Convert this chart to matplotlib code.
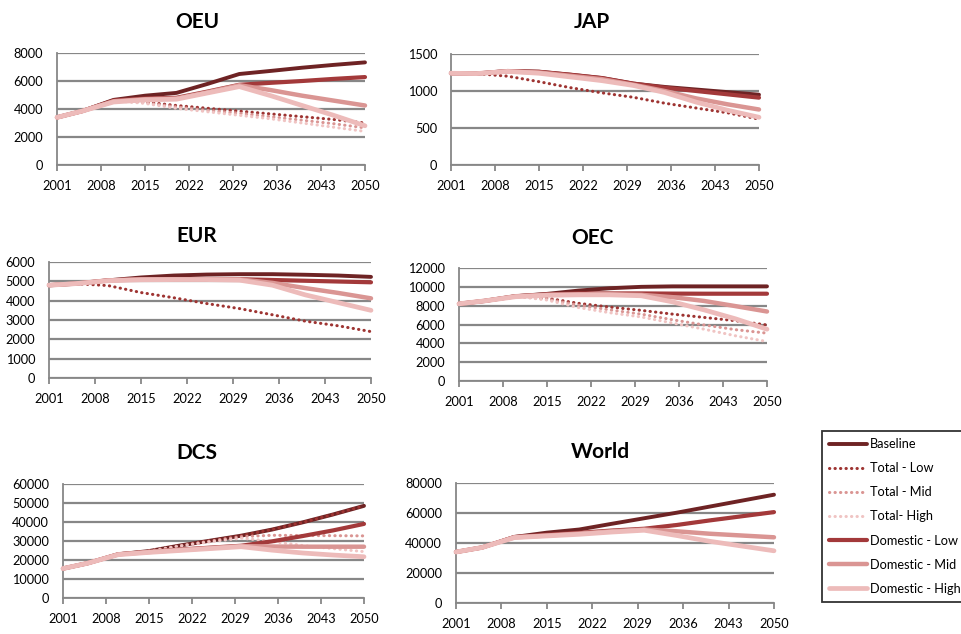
import matplotlib
matplotlib.use("Agg")
import matplotlib.pyplot as plt

plt.rcParams['font.family'] = ['Lato', 'DejaVu Sans']

# Scenario years (values read at five-year steps)
years = [2001, 2005, 2010, 2015, 2020, 2025, 2030, 2035, 2040, 2045, 2050]
x_ticks = [2001, 2008, 2015, 2022, 2029, 2036, 2043, 2050]
x_tick_labels = ["2001", "2008", "2015", "2022", "2029", "2036", "2043", "2050"]

series_names = ["Baseline", "Total - Low", "Total - Mid", "Total- High",
                "Domestic - Low", "Domestic - Mid", "Domestic - High"]

# OEU
oeu_baseline = [3400, 3850, 4650, 4950, 5150, 5800, 6500, 6720, 6950, 7150, 7330]
oeu_total_low = [3400, 3850, 4600, 4500, 4250, 4050, 3850, 3650, 3450, 3250, 3000]
oeu_total_mid = [3400, 3850, 4600, 4450, 4150, 3900, 3700, 3450, 3200, 2950, 2650]
oeu_total_high = [3400, 3850, 4600, 4400, 4050, 3800, 3550, 3300, 3000, 2700, 2400]
oeu_dom_low = [3400, 3850, 4600, 4750, 4800, 5250, 5730, 5870, 6000, 6150, 6280]
oeu_dom_mid = [3400, 3850, 4550, 4700, 4750, 5200, 5700, 5350, 4950, 4600, 4250]
oeu_dom_high = [3400, 3850, 4500, 4650, 4700, 5150, 5600, 4950, 4250, 3550, 2800]

# JAP
jap_baseline = [1240, 1235, 1270, 1260, 1220, 1175, 1100, 1055, 1020, 985, 950]
jap_total_low = [1240, 1235, 1200, 1126, 1045, 975, 915, 835, 770, 705, 620]
jap_total_mid = [1240, 1235, 1265, 1250, 1205, 1160, 1085, 1000, 900, 820, 750]
jap_total_high = [1240, 1235, 1265, 1240, 1190, 1140, 1075, 980, 850, 740, 645]
jap_dom_low = [1240, 1235, 1270, 1260, 1220, 1175, 1100, 1045, 1000, 955, 910]
jap_dom_mid = [1240, 1235, 1265, 1250, 1205, 1160, 1085, 1000, 900, 820, 750]
jap_dom_high = [1240, 1235, 1265, 1240, 1190, 1140, 1075, 980, 850, 740, 645]

# EUR
eur_baseline = [4800, 4880, 5050, 5200, 5300, 5350, 5370, 5370, 5340, 5300, 5230]
eur_total_low = [4800, 4880, 4780, 4420, 4150, 3850, 3590, 3270, 2940, 2700, 2400]
eur_total_mid = [4800, 4880, 5050, 5100, 5110, 5110, 5100, 4920, 4650, 4400, 4120]
eur_total_high = [4800, 4880, 5030, 5080, 5090, 5090, 5060, 4800, 4300, 3900, 3500]
eur_dom_low = [4800, 4880, 5050, 5110, 5120, 5120, 5110, 5070, 5030, 4990, 4950]
eur_dom_mid = [4800, 4880, 5050, 5100, 5110, 5110, 5100, 4920, 4650, 4400, 4120]
eur_dom_high = [4800, 4880, 5030, 5080, 5090, 5090, 5060, 4800, 4300, 3900, 3500]

# OEC
oec_baseline = [8200, 8500, 9000, 9250, 9600, 9850, 10000, 10050, 10050, 10050, 10050]
oec_total_low = [8200, 8500, 9000, 8800, 8250, 7850, 7500, 7100, 6750, 6400, 5950]
oec_total_mid = [8200, 8500, 9000, 8700, 8050, 7550, 7100, 6500, 5950, 5450, 5080]
oec_total_high = [8200, 8500, 9000, 8600, 7800, 7250, 6800, 6150, 5500, 4800, 4190]
oec_dom_low = [8200, 8500, 9000, 9200, 9300, 9300, 9300, 9280, 9270, 9270, 9270]
oec_dom_mid = [8200, 8500, 9000, 9150, 9200, 9200, 9150, 8900, 8500, 7950, 7380]
oec_dom_high = [8200, 8500, 8950, 9100, 9150, 9150, 9050, 8400, 7550, 6600, 5500]

# DCS
dcs_baseline = [15500, 18300, 23000, 24700, 27600, 30200, 32800, 36000, 39800, 44000, 48500]
dcs_total_low = [15500, 18300, 23000, 24700, 27600, 30200, 32800, 36000, 39800, 44000, 48500]
dcs_total_mid = [15500, 18300, 23000, 24700, 27500, 30000, 32300, 33000, 32900, 32800, 32700]
dcs_total_high = [15500, 18300, 23000, 24600, 27300, 29600, 31500, 29800, 27600, 26000, 24400]
dcs_dom_low = [15500, 18300, 23000, 24300, 25500, 26500, 27500, 29800, 32600, 35600, 39000]
dcs_dom_mid = [15500, 18300, 23000, 24200, 25300, 26300, 27300, 27100, 27000, 27000, 27000]
dcs_dom_high = [15500, 18300, 22800, 24000, 25000, 26000, 27000, 25200, 23700, 22600, 21700]

# World
world_baseline = [34000, 37000, 44000, 46900, 49000, 52800, 56500, 60200, 64200, 68200, 72200]
world_total_low = [34000, 37000, 44000, 45500, 46800, 48300, 49500, 52000, 55000, 57800, 60600]
world_total_mid = [34000, 37000, 43800, 45000, 46300, 47800, 49000, 47800, 46200, 45000, 43800]
world_total_high = [34000, 37000, 43600, 44700, 45800, 47300, 48500, 45000, 41200, 38000, 34800]
world_dom_low = [34000, 37000, 44000, 45500, 46800, 48300, 49500, 52000, 55000, 57800, 60600]
world_dom_mid = [34000, 37000, 43800, 45000, 46300, 47800, 49000, 47800, 46200, 45000, 43800]
world_dom_high = [34000, 37000, 43600, 44700, 45800, 47300, 48500, 45000, 41200, 38000, 34800]

regions = ["OEU", "JAP", "EUR", "OEC", "DCS", "World"]
region_data = {
    "OEU": [oeu_baseline, oeu_total_low, oeu_total_mid, oeu_total_high, oeu_dom_low, oeu_dom_mid, oeu_dom_high],
    "JAP": [jap_baseline, jap_total_low, jap_total_mid, jap_total_high, jap_dom_low, jap_dom_mid, jap_dom_high],
    "EUR": [eur_baseline, eur_total_low, eur_total_mid, eur_total_high, eur_dom_low, eur_dom_mid, eur_dom_high],
    "OEC": [oec_baseline, oec_total_low, oec_total_mid, oec_total_high, oec_dom_low, oec_dom_mid, oec_dom_high],
    "DCS": [dcs_baseline, dcs_total_low, dcs_total_mid, dcs_total_high, dcs_dom_low, dcs_dom_mid, dcs_dom_high],
    "World": [world_baseline, world_total_low, world_total_mid, world_total_high, world_dom_low, world_dom_mid, world_dom_high],
}
y_max = {"OEU": 8000, "JAP": 1500, "EUR": 6000, "OEC": 12000, "DCS": 60000, "World": 80000}
y_step = {"OEU": 2000, "JAP": 500, "EUR": 1000, "OEC": 2000, "DCS": 10000, "World": 20000}

# Line styling per series
colors = ["#6E2324", "#9E3432", "#DA9593", "#F0C4C3", "#A3393A", "#DA9593", "#EDBBBA"]
widths = [2.8, 2.2, 2.2, 2.2, 3.0, 3.2, 3.4]
dotted = [False, True, True, True, False, False, False]

W, H = 962, 634
# Plot-area boxes in pixels: left, right, top, bottom
boxes = {
    "OEU": (57, 365, 53, 165),
    "JAP": (451, 759, 54, 165),
    "EUR": (49, 371, 262, 378),
    "OEC": (459, 767, 268, 381),
    "DCS": (63, 364, 484, 598),
    "World": (456, 774, 483, 603),
}
title_pos = {
    "OEU": (197, 22), "JAP": (592, 22), "EUR": (197, 236),
    "OEC": (592, 238), "DCS": (197, 453), "World": (600, 452),
}

grid_col = "#878787"
fig = plt.figure(figsize=(W / 100, H / 100), dpi=100)

handles = None
for reg in regions:
    l, r, t, b = boxes[reg]
    ax = fig.add_axes([l / W, 1 - b / H, (r - l) / W, (b - t) / H])
    lines = []
    for i, vals in enumerate(region_data[reg]):
        if dotted[i]:
            ln, = ax.plot(years, vals, color=colors[i], lw=widths[i],
                          linestyle=(0, (0.1, 1.7)), dash_capstyle='round',
                          solid_capstyle='round', zorder=3 + i, clip_on=False)
        else:
            ln, = ax.plot(years, vals, color=colors[i], lw=widths[i],
                          solid_capstyle='round', solid_joinstyle='round',
                          zorder=3 + i, clip_on=False)
        lines.append(ln)
    if handles is None:
        handles = lines
    ax.set_xlim(2001, 2050)
    ax.set_ylim(0, y_max[reg])
    ax.set_yticks(range(0, y_max[reg] + 1, y_step[reg]))
    ax.set_xticks(x_ticks)
    ax.set_xticklabels(x_tick_labels)
    ax.yaxis.grid(True, color=grid_col, lw=1.6, zorder=1)
    ax.set_axisbelow(True)
    for s in ["top", "right"]:
        ax.spines[s].set_visible(False)
    for s in ["left", "bottom"]:
        ax.spines[s].set_color(grid_col)
        ax.spines[s].set_linewidth(1.3)
    ax.tick_params(axis='x', direction='out', length=4, width=1.3, color=grid_col,
                   labelsize=9.2, pad=7, labelcolor='black')
    ax.tick_params(axis='y', length=0, labelsize=9.2, pad=10, labelcolor='black')
    ax.patch.set_alpha(0)
    tx, ty = title_pos[reg]
    fig.text(tx / W, 1 - ty / H, reg, ha='center', va='center',
             fontsize=15, fontweight='bold')

leg = fig.legend(handles, series_names, loc='upper left',
                 bbox_to_anchor=(822 / W, 1 - 431 / H), bbox_transform=fig.transFigure,
                 fontsize=9.2, frameon=True, fancybox=False, handlelength=3.0,
                 handletextpad=0.2, labelspacing=0.95, borderpad=0.55, borderaxespad=0)
leg.get_frame().set_edgecolor('black')
leg.get_frame().set_linewidth(1.3)

fig.savefig("out.png", dpi=100)
